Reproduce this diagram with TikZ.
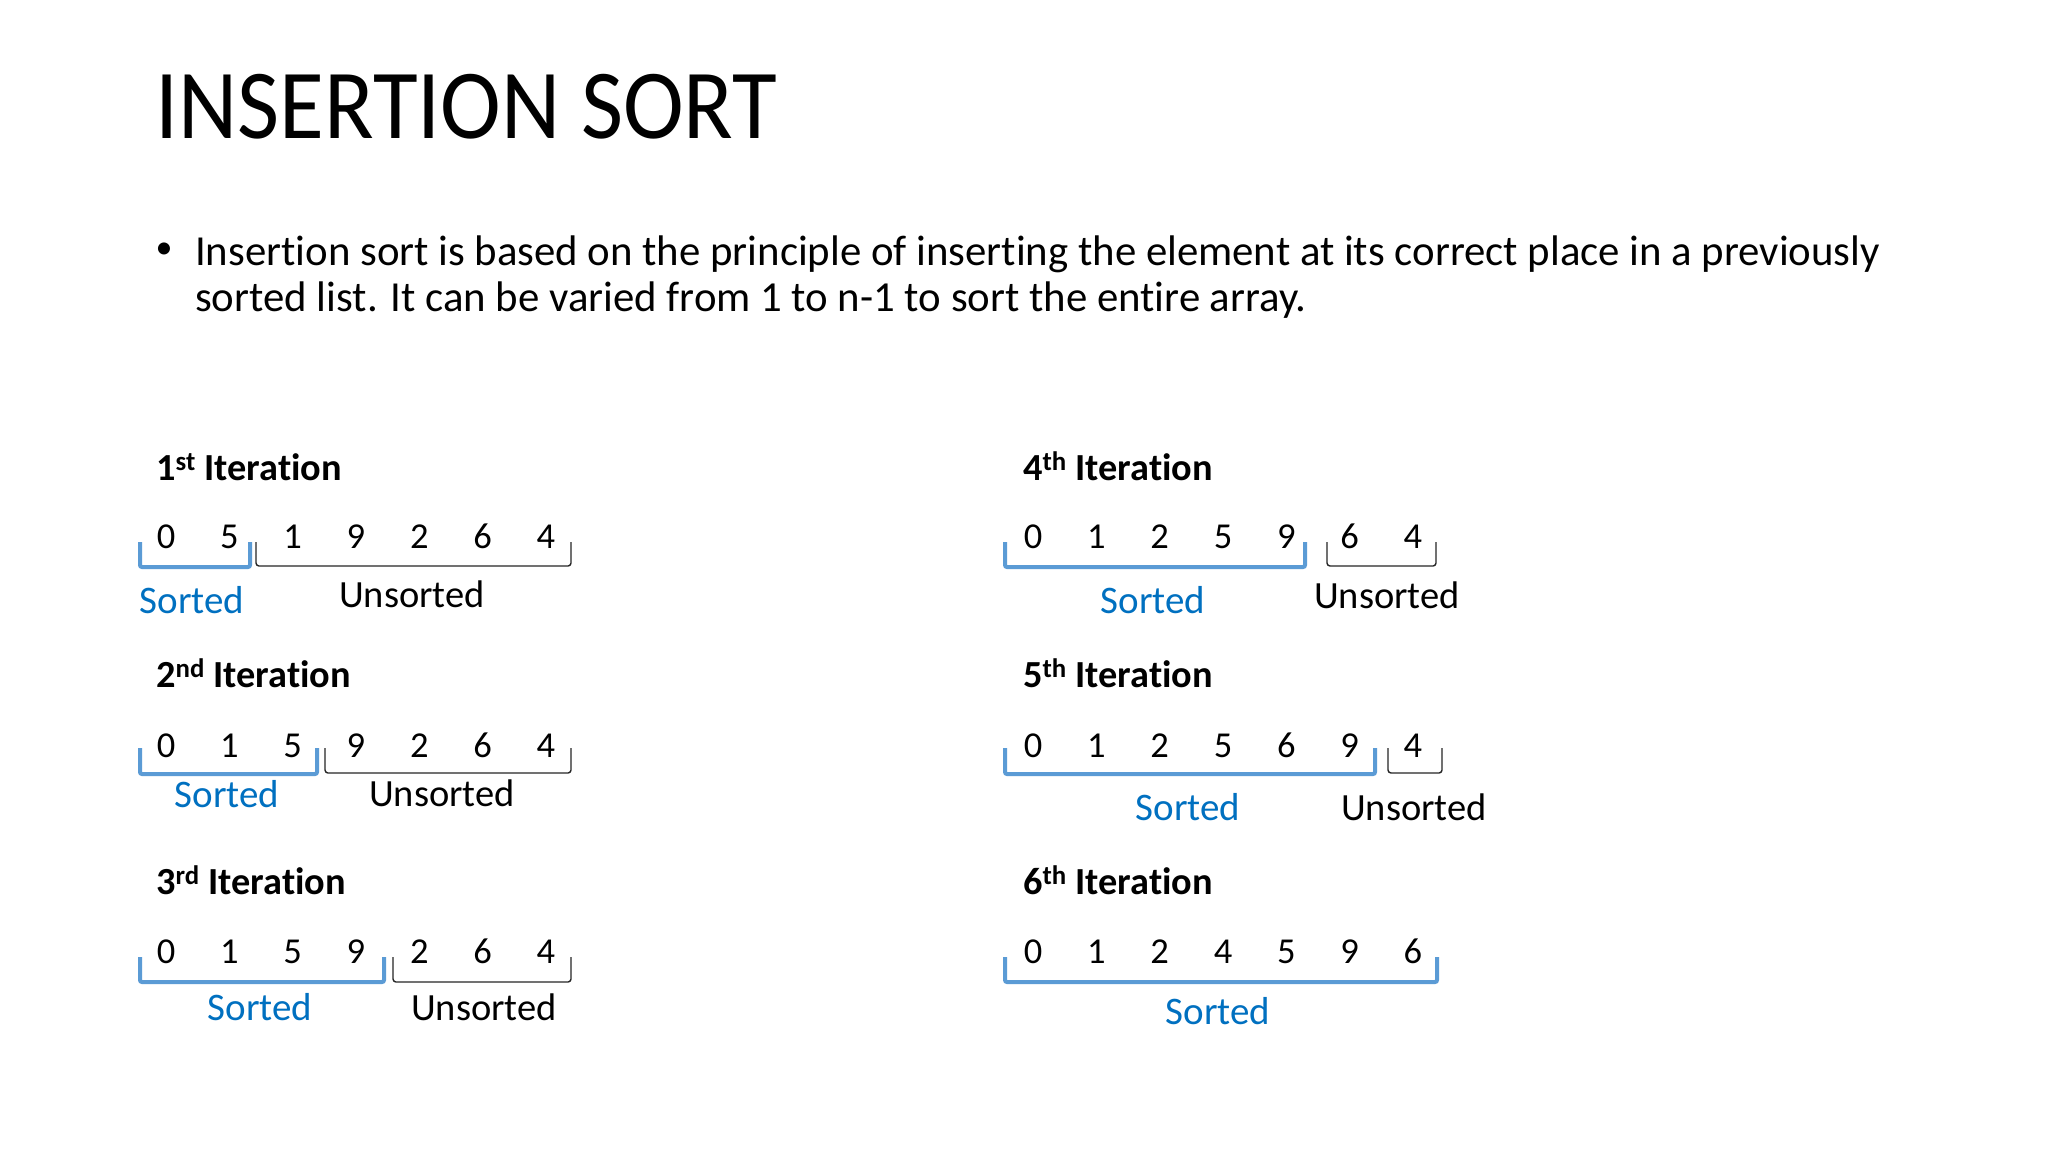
\documentclass[tikz,border=0pt]{standalone}
\usepackage{fontspec}
\setmainfont{Carlito}[Ligatures=NoCommon]
\newfontfamily\titlefont{Carlito}[Ligatures=NoCommon,FakeStretch=0.925]
\definecolor{brblue}{RGB}{91,155,213}
\definecolor{txblue}{RGB}{0,112,192}
\begin{document}
\begin{tikzpicture}[x=1pt,y=-1pt,
  num/.style={anchor=base,inner sep=0pt,font=\fontsize{36.5}{42}\selectfont},
  hdr/.style={anchor=base west,inner sep=0pt,font=\fontsize{38.3}{44}\selectfont\bfseries},
  sortlbl/.style={anchor=base,inner sep=0pt,text=txblue,font=\fontsize{39}{47}\selectfont},
  unsortlbl/.style={anchor=base,inner sep=0pt,font=\fontsize{38.5}{46}\selectfont},
  sbrk/.style={draw=brblue,line width=4pt,rounded corners=2pt},
  ubrk/.style={draw=black!85,line width=1.4pt,rounded corners=3pt}]
\useasboundingbox[fill=white] (0,0) rectangle (2048,1152);
% title and bullet
\node[anchor=base west,inner sep=0pt,font=\titlefont\fontsize{99}{118}\selectfont] (title) at (155,138) {INSERTION SORT};
\node[inner sep=0pt,font=\fontsize{34}{40}\selectfont] (bullet) at (164,251) {•};
\node[anchor=base west,inner sep=0pt,font=\fontsize{42.8}{46}\selectfont] (body1) at (195,265)
  {Insertion sort is based on the principle of inserting the element at its correct place in a previously};
\node[anchor=base west,inner sep=0pt,font=\fontsize{42.8}{46}\selectfont] (body2) at (195,311)
  {sorted list. It can be varied from 1 to n-1 to sort the entire array.};
% headers
\node[hdr] (h1) at (156,480) {1\textsuperscript{st} Iteration};
\node[hdr] (h2) at (156,687) {2\textsuperscript{nd} Iteration};
\node[hdr] (h3) at (156,894) {3\textsuperscript{rd} Iteration};
\node[hdr] (h4) at (1023,480) {4\textsuperscript{th} Iteration};
\node[hdr] (h5) at (1023,687) {5\textsuperscript{th} Iteration};
\node[hdr] (h6) at (1023,894) {6\textsuperscript{th} Iteration};
% digits
\foreach \d [count=\i from 0] in {0,5,1,9,2,6,4} \node[num] (a\i) at ({166+63.33*\i},548) {\d};
\foreach \d [count=\i from 0] in {0,1,5,9,2,6,4} \node[num] (b\i) at ({166+63.33*\i},757) {\d};
\foreach \d [count=\i from 0] in {0,1,5,9,2,6,4} \node[num] (c\i) at ({166+63.33*\i},963) {\d};
\foreach \d [count=\i from 0] in {0,1,2,5,9,6,4} \node[num] (d\i) at ({1033+63.33*\i},548) {\d};
\foreach \d [count=\i from 0] in {0,1,2,5,6,9,4} \node[num] (e\i) at ({1033+63.33*\i},757) {\d};
\foreach \d [count=\i from 0] in {0,1,2,4,5,9,6} \node[num] (f\i) at ({1033+63.33*\i},963) {\d};
% brackets
\draw[sbrk] (140,542) -- (140,567) -- (250,567) -- (250,542);
\draw[ubrk] (256,542) -- (256,566) -- (571,566) -- (571,542);
\draw[sbrk] (140,748) -- (140,774) -- (317,774) -- (317,748);
\draw[ubrk] (325,748) -- (325,773) -- (571,773) -- (571,748);
\draw[sbrk] (140,957) -- (140,982) -- (384,982) -- (384,957);
\draw[ubrk] (393,957) -- (393,982) -- (571,982) -- (571,957);
\draw[sbrk] (1005,542) -- (1005,567) -- (1305,567) -- (1305,542);
\draw[ubrk] (1327,542) -- (1327,566) -- (1436,566) -- (1436,542);
\draw[sbrk] (1005,748) -- (1005,774) -- (1375,774) -- (1375,748);
\draw[ubrk] (1388,748) -- (1388,773) -- (1442,773) -- (1442,748);
\draw[sbrk] (1005,957) -- (1005,982) -- (1437,982) -- (1437,957);
% labels
\node[sortlbl] (s1) at (192,613) {Sorted};
\node[unsortlbl] (u1) at (412,607) {Unsorted};
\node[sortlbl] (s2) at (227,807) {Sorted};
\node[unsortlbl] (u2) at (442,806) {Unsorted};
\node[sortlbl] (s3) at (260,1020) {Sorted};
\node[unsortlbl] (u3) at (484,1020) {Unsorted};
\node[sortlbl] (s4) at (1153,613) {Sorted};
\node[unsortlbl] (u4) at (1387,608) {Unsorted};
\node[sortlbl] (s5) at (1188,820) {Sorted};
\node[unsortlbl] (u5) at (1414,820) {Unsorted};
\node[sortlbl] (s6) at (1218,1024) {Sorted};
\end{tikzpicture}
\end{document}
